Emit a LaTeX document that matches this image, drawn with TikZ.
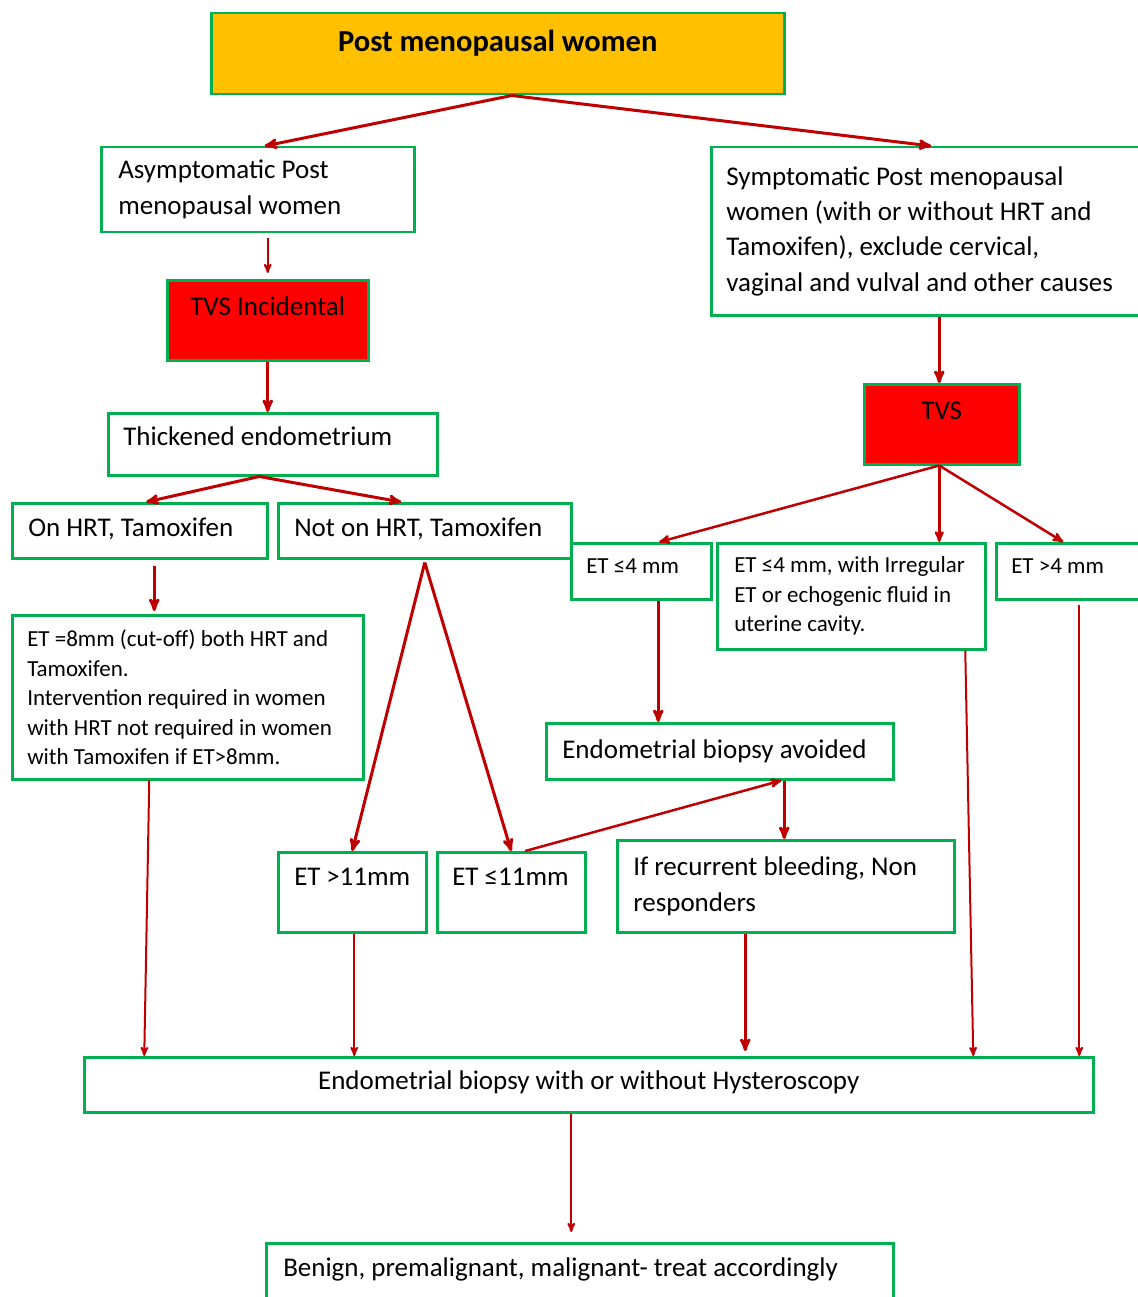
\documentclass[tikz,border=0pt]{standalone}
\usepackage{fontspec}
\setmainfont{Carlito}
\usetikzlibrary{arrows}
\definecolor{boxgreen}{RGB}{0,176,80}
\definecolor{arrowred}{RGB}{192,0,0}
\definecolor{topfill}{RGB}{255,192,0}

\begin{document}
\begin{tikzpicture}[x=1pt,y=-1pt,>=stealth',
    box/.style={draw=boxgreen,line width=2.5pt,anchor=north west,align=flush left,
                inner xsep=16pt,inner ysep=0pt,font=\fontsize{27}{36}\selectfont},
    small box/.style={box,font=\fontsize{23}{29.5}\selectfont},
    red box/.style={box,fill=red,align=center},
    big/.style={->,draw=arrowred,line width=3pt},
    mid/.style={->,draw=arrowred,line width=2.5pt},
    thin/.style={->,draw=arrowred,line width=2pt}]

  \useasboundingbox (0,0) rectangle (1137,1297);
  \fill[white] (0,0) rectangle (1137,1297);

  \node[box,fill=topfill,align=center,minimum width=573pt,minimum height=81pt,text depth=25pt,
        font=\bfseries\fontsize{30.5}{36}\selectfont] (post) at (210,12) {Post menopausal women};
  \node[box,text width=279pt,inner xsep=17pt,minimum height=85pt] (asym) at (100,146) {Asymptomatic Post\\menopausal women};
  \node[red box,minimum width=201pt,minimum height=80pt,text depth=28pt] (tvsinc) at (166,279) {TVS Incidental};
  \node[box,text width=299pt,inner xsep=15pt,minimum height=62pt,text depth=16pt] (thick) at (107,412) {Thickened endometrium};
  \node[box,text width=223pt,minimum height=55pt,text depth=8pt] (onhrt) at (11,502) {On HRT, Tamoxifen};
  \node[box,text width=261pt,minimum height=55pt,text depth=8pt] (nothrt) at (277,502) {Not on HRT, Tamoxifen};
  \node[small box,text width=321pt,inner xsep=15pt,minimum height=164pt] (etcut) at (11,614)
    {ET =8mm (cut-off) both HRT and\\Tamoxifen.\\Intervention required in women\\with HRT not required in women\\with Tamoxifen if ET>8mm.};

  \node[box,text width=400pt,inner xsep=15pt,minimum height=168pt,font=\fontsize{27}{35.3}\selectfont] (symp) at (710,146)
    {Symptomatic Post menopausal\\women (with or without HRT and\\Tamoxifen), exclude cervical,\\vaginal and vulval and other causes};
  \node[red box,minimum width=155pt,minimum height=80pt,text depth=28pt] (tvs) at (863,383) {TVS};
  \node[small box,text width=110pt,inner xsep=15pt,minimum height=56pt,text depth=10pt] (etle4) at (570,542) {ET ≤4 mm};
  \node[small box,text width=234pt,inner xsep=17pt,minimum height=106pt] (etirr) at (716,542)
    {ET ≤4 mm, with Irregular\\ET or echogenic fluid in\\uterine cavity.};
  \node[small box,text width=115pt,inner xsep=15pt,minimum height=56pt,text depth=10pt] (etgt4) at (995,542) {ET >4 mm};
  \node[box,text width=315pt,minimum height=56pt] (avoided) at (545,722) {Endometrial biopsy avoided};

  \node[box,text width=116pt,minimum height=80pt,text depth=30pt] (etgt11) at (277,851) {ET >11mm};
  \node[box,text width=118pt,inner xsep=15pt,minimum height=80pt,text depth=30pt] (etle11) at (436,851) {ET ≤11mm};
  \node[box,text width=305pt,minimum height=92pt] (recur) at (616,839) {If recurrent bleeding, Non\\responders};
  \node[box,align=center,minimum width=1009pt,minimum height=55pt,text depth=9pt] (biopsy) at (83,1056)
    {Endometrial biopsy with or without Hysteroscopy};
  \node[box,text width=593pt,inner xsep=17pt,minimum height=60pt,text depth=12pt] (benign) at (265,1242)
    {Benign, premalignant, malignant- treat accordingly};

  % left branch
  \draw[big] ([xshift=14pt]post.south) -- ([xshift=7pt]asym.north);
  \draw[thin,shorten <=5pt,shorten >=6pt] (tvsinc.north |- asym.south) -- (tvsinc.north);
  \draw[big] (tvsinc.south) -- (tvsinc.south |- thick.north);
  \draw[big] ([xshift=-13.5pt]thick.south) -- ([xshift=6.5pt]onhrt.north);
  \draw[big] ([xshift=-13.5pt]thick.south) -- ([xshift=-23.5pt]nothrt.north);
  \draw[big,shorten <=6pt,shorten >=3pt] ([xshift=14.5pt]onhrt.south) -- ([xshift=14.5pt]onhrt.south |- etcut.north);
  \draw[big] ([yshift=-3pt]nothrt.south) -- (etgt11.north);
  \draw[big] ([yshift=-3pt]nothrt.south) -- (etle11.north);
  \draw[mid] ([xshift=14pt]etle11.north) -- ([xshift=61.5pt]avoided.south);
  \draw[big] ([xshift=64.5pt]avoided.south) -- ([xshift=64.5pt]avoided.south |- recur.north);

  % right branch
  \draw[big] ([xshift=14pt]post.south) -- ([xshift=5pt]symp.north);
  \draw[big] ([xshift=13pt]symp.south) -- ([xshift=13pt]symp.south |- tvs.north);
  \draw[mid] ([xshift=-2.5pt]tvs.south) -- ([xshift=18pt]etle4.north);
  \draw[mid] ([xshift=-2.5pt]tvs.south) -- ([xshift=-2.5pt]tvs.south |- etirr.north);
  \draw[mid] ([xshift=-2.5pt]tvs.south) -- ([xshift=-5.5pt]etgt4.north);
  \draw[big] ([xshift=17pt]etle4.south) -- ([xshift=17pt]etle4.south |- avoided.north);

  % into the biopsy box
  \draw[thin] ([xshift=-38.5pt]etcut.south) -- ([xshift=-444.5pt]biopsy.north);
  \draw[thin] ([xshift=2pt]etgt11.south) -- ([xshift=2pt]etgt11.south |- biopsy.north);
  \draw[big,shorten >=5pt] ([xshift=-40.5pt]recur.south) -- ([xshift=-40.5pt]recur.south |- biopsy.north);
  \draw[thin] ([xshift=114pt]etirr.south) -- ([xshift=384.5pt]biopsy.north);
  \draw[thin,shorten <=4pt] ([xshift=10.5pt]etgt4.south) -- ([xshift=10.5pt]etgt4.south |- biopsy.north);
  \draw[thin,shorten >=10pt] ([xshift=-17.5pt]biopsy.south) -- ([xshift=-17.5pt]biopsy.south |- benign.north);
\end{tikzpicture}
\end{document}
